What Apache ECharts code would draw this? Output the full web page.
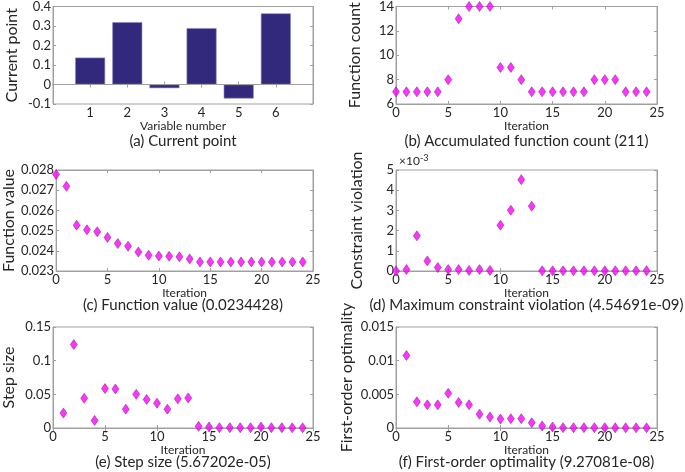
<!DOCTYPE html>
<html><head><meta charset="utf-8">
<script src="https://cdn.jsdelivr.net/npm/echarts@6/dist/echarts.min.js"></script>
<style>html,body{margin:0;padding:0;background:#fff}#c{width:685px;height:472px}</style>
</head><body><div id="c"></div>
<script>
// ---- data ----
const variableNumbers = [1, 2, 3, 4, 5, 6];
const currentPoint = [0.138, 0.32, -0.019, 0.289, -0.072, 0.365];

const iterations = [0,1,2,3,4,5,6,7,8,9,10,11,12,13,14,15,16,17,18,19,20,21,22,23,24];
const functionCount = [7,7,7,7,7,8,13,14,14,14,9,9,8,7,7,7,7,7,7,8,8,8,7,7,7];
const functionValue = [0.02778,0.02719,0.02527,0.02504,0.02494,0.02466,0.02436,0.02423,0.02394,0.02378,0.02374,0.02373,0.02370,0.02360,0.02345,0.02345,0.02345,0.02345,0.02345,0.02345,0.02345,0.02345,0.02345,0.02345,0.02345];
const constraintViolation = [0.00000,0.00007,0.00174,0.00050,0.00017,0.00007,0.00007,0.00003,0.00007,0.00003,0.00227,0.00301,0.00452,0.00321,0.00001,0.00001,0.00001,0.00001,0.00001,0.00001,0.00001,0.00001,0.00001,0.00001,0.00001];

const iterationsFrom1 = [1,2,3,4,5,6,7,8,9,10,11,12,13,14,15,16,17,18,19,20,21,22,23,24];
const stepSize = [0.0221,0.1239,0.0442,0.0113,0.0585,0.058,0.028,0.050,0.0423,0.0369,0.028,0.0433,0.0447,0.0025,0.0015,0.0005,0.0005,0.0005,0.0005,0.0015,0.0005,0.0005,0.0003,0.0003];
const firstOrderOptimality = [0.01077,0.00388,0.00344,0.00344,0.00516,0.00379,0.00344,0.00206,0.00162,0.00133,0.00138,0.00138,0.00079,0.0003,0.00015,0.00005,0.00005,0.00005,0.00005,0.00005,0.00003,0.00003,0.00003,0.00003];

const titles = ['(a) Current point','(b) Accumulated function count (211)','(c) Function value (0.0234428)','(d) Maximum constraint violation (4.54691e-09)','(e) Step size (5.67202e-05)','(f) First-order optimality (9.27081e-08)'];
const yNames = ['Current point','Function count','Function value','Constraint violation','Step size','First-order optimality'];
const xNames = ['Variable number','Iteration','Iteration','Iteration','Iteration','Iteration'];

// ---- layout ----
const FONT = 'Lato';
const TXT = '#262626';
const BOX = '#a0a0a0';
const cols = [{l:53,w:260},{l:396,w:261}];
const rows = [{t:5,h:99},{t:170,h:101},{t:327,h:101}];
const titleY = [141, 305, 462];
const xNameGap = [16, 14, 13];

const yCfg = [
  {min:-0.1,max:0.4,interval:0.1},
  {min:6,max:14,interval:2},
  {min:0.023,max:0.028,interval:0.001},
  {min:0,max:0.005,interval:0.001, fmt: v => String(Math.round(v*1000))},
  {min:0,max:0.15,interval:0.05},
  {min:0,max:0.015,interval:0.005}
];
const yNameGap = [33, 33, 36, 31, 36, 41];

const grids=[], xAxes=[], yAxes=[], series=[], graphics=[];
for (let g=0; g<6; g++){
  const c = cols[g%2], r = rows[Math.floor(g/2)];
  grids.push({left:c.l, top:r.t, width:c.w, height:r.h, show:true, borderColor:BOX, borderWidth:1, backgroundColor:'#fff'});
  const isBar = g===0;
  const xBase = {gridIndex:g, type:'value', min:0, max: isBar?7:25, interval: isBar?1:5,
    splitLine:{show:false}, axisLine:{show:true, lineStyle:{color:BOX}},
    axisTick:{show:true, inside:true, length:3, lineStyle:{color:BOX}}};
  xAxes.push(Object.assign({}, xBase, {position:'bottom',
    name:xNames[g], nameLocation:'middle', nameGap:xNameGap[Math.floor(g/2)],
    nameTextStyle:{fontFamily:FONT, fontSize:12, color:TXT},
    axisLabel:{fontFamily:FONT, fontSize:13, color:TXT, margin:2,
      formatter: isBar ? (v => (v>=1 && v<=6) ? String(v) : '') : (v => String(v))}}));
  xAxes.push(Object.assign({}, xBase, {position:'top', axisLabel:{show:false}}));
  const yc = yCfg[g];
  const yBase = {gridIndex:g, type:'value', min:yc.min, max:yc.max, interval:yc.interval,
    splitLine:{show:false}, axisLine:{show:true, onZero:false, lineStyle:{color:BOX}},
    axisTick:{show:true, inside:true, length:3, lineStyle:{color:BOX}}};
  yAxes.push(Object.assign({}, yBase, {position:'left',
    name:yNames[g], nameLocation:'middle', nameGap:yNameGap[g],
    nameTextStyle:{fontFamily:FONT, fontSize:16, color:TXT},
    axisLabel:{fontFamily:FONT, fontSize:13, color:TXT, margin:2, formatter: yc.fmt || (v => String(+v.toFixed(6)))}}));
  yAxes.push(Object.assign({}, yBase, {position:'right', axisLabel:{show:false}}));
  graphics.push({type:'text', x:c.l + c.w/2, y:titleY[Math.floor(g/2)],
    style:{text:titles[g], font:'15px '+FONT, fill:TXT, textAlign:'center', textVerticalAlign:'middle'}});
}

graphics.push({type:'text', x:399, y:161,
  style:{text:'×10{s|-3}', rich:{s:{fontSize:9, verticalAlign:'top', padding:[0,0,6,0], fontFamily:FONT, fill:TXT}}, font:'12px '+FONT, fill:TXT, textVerticalAlign:'middle'}});

const mk = {symbol:'diamond', symbolSize:[7,10], itemStyle:{color:'#ff00ff', borderColor:'#7a1a7a', borderWidth:0.6}};
function scatter(g, xs, ys){
  return Object.assign({type:'scatter', xAxisIndex:2*g, yAxisIndex:2*g, data: xs.map((x,i)=>[x, ys[i]]), animation:false}, mk);
}
series.push({type:'bar', xAxisIndex:0, yAxisIndex:0, barWidth:30, animation:false,
  data: variableNumbers.map((x,i)=>[x, currentPoint[i]]),
  itemStyle:{color:'#32297d', borderColor:'#8f8cc4', borderWidth:0.6},
  markLine:{silent:true, symbol:'none', label:{show:false}, lineStyle:{color:BOX, type:'solid', width:1}, data:[{yAxis:0}]}});
series.push(scatter(1, iterations, functionCount));
series.push(scatter(2, iterations, functionValue));
series.push(scatter(3, iterations, constraintViolation));
series.push(scatter(4, iterationsFrom1, stepSize));
series.push(scatter(5, iterationsFrom1, firstOrderOptimality));

const chart = echarts.init(document.getElementById('c'), null, {renderer:'canvas'});
chart.setOption({animation:false, backgroundColor:'#fff', grid:grids, xAxis:xAxes, yAxis:yAxes, series:series, graphic:graphics});
</script></body></html>
